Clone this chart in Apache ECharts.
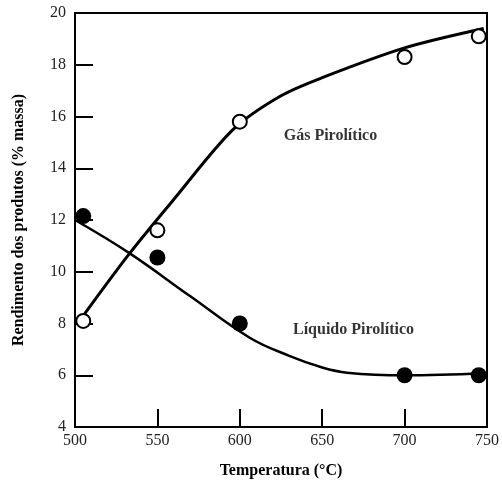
<!DOCTYPE html>
<html><head><meta charset="utf-8">
<script src="https://cdn.jsdelivr.net/npm/echarts@6/dist/echarts.min.js"></script>
<style>html,body{margin:0;padding:0;background:#fff}#c{width:502px;height:481px}</style>
</head><body><div id="c"></div>
<script>
// Measured data points
const gasTemps = [505, 550, 600, 700, 745];
const gasValues = [8.1, 11.6, 15.8, 18.3, 19.1];
const liqTemps = [505, 550, 600, 700, 745];
const liqValues = [12.15, 10.55, 8.0, 6.0, 6.0];
// Fitted curves
const gasFitTemps = [505, 533, 560, 596, 625, 650, 700, 748];
const gasFitValues = [8.3, 10.7, 12.8, 15.5, 16.8, 17.5, 18.65, 19.4];
const liqFitTemps = [500, 533, 570, 606, 630, 650, 665, 700, 748];
const liqFitValues = [12.0, 10.72, 9.05, 7.45, 6.75, 6.3, 6.1, 6.0, 6.08];
// Axis ticks
const xMin = 500, xMax = 750, xStep = 50;
const yMin = 4, yMax = 20, yStep = 2;
// Annotations
const gasLabel = {text: 'Gás Pirolítico', x: 655, y: 15.25};
const liqLabel = {text: 'Líquido Pirolítico', x: 669, y: 7.75};

const zip = (a, b) => a.map((v, i) => [v, b[i]]);
const serif = '"Liberation Serif","DejaVu Serif",serif';

const chart = echarts.init(document.getElementById('c'), null, {renderer: 'canvas'});
chart.setOption({
  animation: false,
  backgroundColor: '#fff',
  grid: {left: 75, right: 15, top: 13, bottom: 54, show: true, borderColor: '#000', borderWidth: 2,
         containLabel: false, outerBoundsMode: 'none'},
  xAxis: {
    type: 'value', min: xMin, max: xMax, interval: xStep,
    name: 'Temperatura (°C)', nameLocation: 'middle', nameGap: 36,
    nameTextStyle: {fontFamily: serif, fontWeight: 'bold', fontSize: 16, color: '#000'},
    axisLine: {show: true, lineStyle: {color: '#000', width: 2}},
    axisTick: {show: true, inside: true, length: 18, lineStyle: {color: '#000', width: 2}},
    axisLabel: {fontFamily: serif, fontSize: 16, color: '#222', margin: 6},
    splitLine: {show: false}
  },
  yAxis: {
    type: 'value', min: yMin, max: yMax, interval: yStep,
    name: 'Rendimento dos produtos (% massa)', nameLocation: 'middle', nameGap: 48, nameRotate: 90,
    nameTextStyle: {fontFamily: serif, fontWeight: 'bold', fontSize: 16, color: '#000'},
    axisLine: {show: true, lineStyle: {color: '#000', width: 2}},
    axisTick: {show: true, inside: true, length: 18, lineStyle: {color: '#000', width: 2}},
    axisLabel: {fontFamily: serif, fontSize: 16, color: '#222', margin: 9},
    splitLine: {show: false}
  },
  series: [
    {type: 'line', data: zip(gasFitTemps, gasFitValues), smooth: 0.3, symbol: 'none',
     lineStyle: {color: '#000', width: 3}, z: 2},
    {type: 'line', data: zip(liqFitTemps, liqFitValues), smooth: 0.4, symbol: 'none',
     lineStyle: {color: '#000', width: 2.5}, z: 2},
    {type: 'scatter', data: zip(gasTemps, gasValues), symbol: 'circle', symbolSize: 14,
     itemStyle: {color: '#fff', borderColor: '#000', borderWidth: 2, opacity: 1}, z: 3},
    {type: 'scatter', data: zip(liqTemps, liqValues), symbol: 'circle', symbolSize: 16,
     itemStyle: {color: '#000', opacity: 1}, z: 3},
    {type: 'scatter', symbolSize: 0, silent: true, z: 4,
     data: [[gasLabel.x, gasLabel.y, gasLabel.text], [liqLabel.x, liqLabel.y, liqLabel.text]],
     label: {show: true, position: 'inside', formatter: p => p.data[2],
       fontFamily: serif, fontWeight: 'bold', fontSize: 16, color: '#000'}}
  ]
});
</script></body></html>
